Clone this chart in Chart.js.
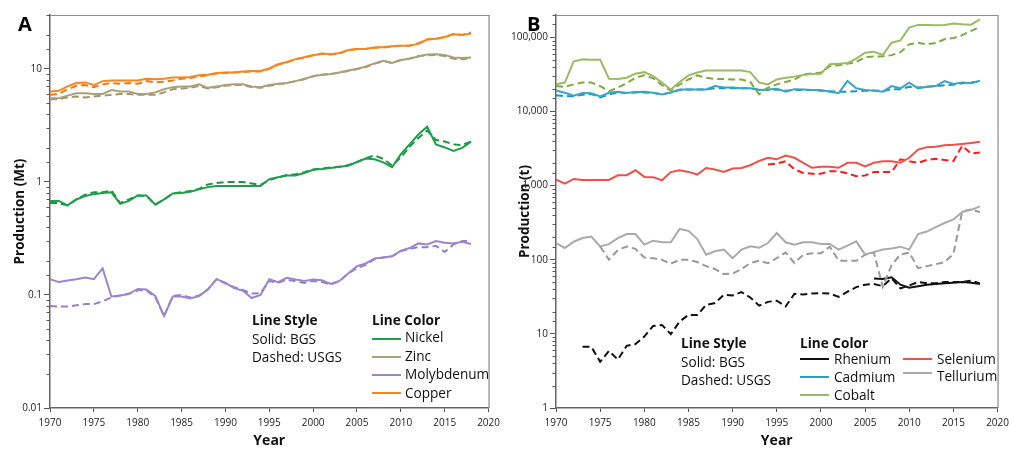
<!DOCTYPE html>
<html><head><meta charset="utf-8">
<script src="https://cdn.jsdelivr.net/npm/chart.js@4"></script>
<style>
body{margin:0;background:#fff;width:1014px;height:450px;overflow:hidden;position:relative;font-family:'Open Sans',sans-serif;}
.cv{position:absolute;top:0;}
.t{position:absolute;font-size:13.6px;line-height:18px;color:#111;white-space:nowrap;}
.b{font-weight:bold;}
.ln{position:absolute;height:0;border-top:2px solid;width:29px;}
.lab{position:absolute;font-weight:bold;font-size:20px;line-height:24px;color:#000;}
</style></head><body>
<canvas id="ca" class="cv" width="505" height="450" style="left:0"></canvas>
<canvas id="cb" class="cv" width="509" height="450" style="left:505px"></canvas>

<div class="lab" style="left:18px;top:12px">A</div>
<div class="lab" style="left:527px;top:12px">B</div>

<div class="t b" style="left:252px;top:311px">Line Style</div>
<div class="t" style="left:252px;top:330px">Solid: BGS</div>
<div class="t" style="left:252px;top:348px">Dashed: USGS</div>
<div class="t b" style="left:372px;top:311px">Line Color</div>
<div class="ln" style="left:372px;top:338px;border-color:#1f9e4b"></div><div class="t" style="left:405px;top:328px">Nickel</div>
<div class="ln" style="left:372px;top:356px;border-color:#aaa07a"></div><div class="t" style="left:405px;top:347px">Zinc</div>
<div class="ln" style="left:372px;top:374px;border-color:#9b86cc"></div><div class="t" style="left:405px;top:365px">Molybdenum</div>
<div class="ln" style="left:372px;top:392px;border-color:#f7861f"></div><div class="t" style="left:405px;top:384px">Copper</div>

<div class="t b" style="left:681px;top:334px">Line Style</div>
<div class="t" style="left:681px;top:353px">Solid: BGS</div>
<div class="t" style="left:681px;top:371px">Dashed: USGS</div>
<div class="t b" style="left:800px;top:334px">Line Color</div>
<div class="ln" style="left:800px;top:358px;border-color:#111"></div><div class="t" style="left:834px;top:350px">Rhenium</div>
<div class="ln" style="left:800px;top:376px;border-color:#2b9fc4"></div><div class="t" style="left:834px;top:368px">Cadmium</div>
<div class="ln" style="left:800px;top:394px;border-color:#9aba63"></div><div class="t" style="left:834px;top:386px">Cobalt</div>
<div class="ln" style="left:903px;top:358px;border-color:#f0504a"></div><div class="t" style="left:937px;top:350px">Selenium</div>
<div class="ln" style="left:903px;top:372px;border-color:#aaa"></div><div class="t" style="left:937px;top:367px">Tellurium</div>

<script>
const years = [1970,1971,1972,1973,1974,1975,1976,1977,1978,1979,1980,1981,1982,1983,1984,1985,1986,1987,1988,1989,1990,1991,1992,1993,1994,1995,1996,1997,1998,1999,2000,2001,2002,2003,2004,2005,2006,2007,2008,2009,2010,2011,2012,2013,2014,2015,2016,2017,2018];

// Panel A (Mt)
const copperBGS = [6.3,6.4,7.0,7.5,7.6,7.2,7.8,7.9,7.9,7.9, 7.9,8.2,8.1,8.2,8.4,8.4,8.5,8.8,8.9,9.2, 9.3,9.3,9.5,9.6,9.6,10.1,11.0,11.5,12.2,12.7, 13.2,13.7,13.5,13.8,14.7,15.0,15.1,15.5,15.6,15.9, 16.0,16.0,16.7,18.2,18.5,19.2,20.3,20.0,20.6];
const copperUSGS = [5.9,6.0,6.6,7.1,7.2,6.9,7.3,7.5,7.4,7.5, 7.4,7.8,7.6,7.7,7.9,8.2,8.3,8.6,8.8,9.1, 9.2,9.3,9.4,9.5,9.5,10.0,10.9,11.4,12.2,12.6, 13.2,13.6,13.4,13.7,14.6,15.0,15.0,15.4,15.5,15.8, 16.0,16.1,16.9,18.3,18.5,19.1,20.4,20.0,21.0];
const zincBGS = [5.5,5.5,5.8,6.1,6.1,6.0,6.0,6.5,6.3,6.3, 6.0,6.0,6.2,6.6,6.9,7.0,7.0,7.3,6.8,7.0, 7.2,7.3,7.3,7.0,6.9,7.2,7.4,7.5,7.8,8.2, 8.6,8.9,9.0,9.3,9.7,10.0,10.5,11.2,11.8,11.3, 12.0,12.3,12.9,13.4,13.5,13.3,12.6,12.5,12.6];
const zincUSGS = [5.4,5.4,5.6,5.7,5.6,5.7,5.8,5.9,6.0,6.0, 5.9,5.9,5.9,6.2,6.6,6.7,6.8,7.1,6.7,6.9, 7.1,7.2,7.2,6.9,6.8,7.1,7.3,7.5,7.8,8.1, 8.6,8.9,9.0,9.3,9.6,10.0,10.4,11.1,11.7,11.3, 12.0,12.4,13.0,13.2,13.3,13.0,12.3,12.2,12.5];
const nickelBGS = [0.68,0.68,0.62,0.70,0.75,0.78,0.80,0.81,0.64,0.68, 0.76,0.76,0.63,0.70,0.79,0.80,0.82,0.86,0.90,0.92, 0.92,0.92,0.92,0.92,0.92,1.06,1.10,1.14,1.14,1.20, 1.28,1.30,1.33,1.36,1.39,1.50,1.61,1.59,1.49,1.35, 1.76,2.15,2.63,3.08,2.15,2.02,1.88,2.00,2.27];
const nickelUSGS = [0.65,0.65,0.62,0.70,0.77,0.81,0.81,0.84,0.65,0.70, 0.76,0.75,0.63,0.70,0.79,0.81,0.83,0.87,0.95,0.98, 1.00,1.00,1.00,0.97,0.94,1.04,1.10,1.15,1.17,1.22, 1.29,1.32,1.34,1.36,1.41,1.50,1.62,1.72,1.60,1.40, 1.65,2.05,2.45,2.85,2.35,2.28,2.15,2.12,2.28];
const molyBGS = [0.138,0.130,0.134,0.138,0.143,0.138,0.172,0.097,0.099,0.102, 0.113,0.112,0.098,0.065,0.097,0.097,0.093,0.098,0.112,0.138, 0.128,0.115,0.109,0.094,0.100,0.138,0.130,0.142,0.137,0.133, 0.137,0.135,0.125,0.133,0.155,0.180,0.190,0.210,0.215,0.220, 0.246,0.260,0.286,0.280,0.300,0.290,0.285,0.295,0.283];
const molyUSGS = [0.080,0.079,0.079,0.081,0.083,0.083,0.088,0.095,0.099,0.103, 0.110,0.110,0.096,0.065,0.098,0.100,0.095,0.099,0.112,0.138, 0.127,0.117,0.111,0.103,0.104,0.133,0.128,0.137,0.132,0.128, 0.133,0.130,0.124,0.133,0.155,0.173,0.185,0.207,0.215,0.220, 0.245,0.255,0.265,0.265,0.272,0.240,0.280,0.300,0.300];

// Panel B (t)
const cobaltBGS = [23200,24500,47000,50400,50000,50000,27700,27500,28500,32300, 33900,30000,24500,19800,25000,30700,33500,35700,35700,35700, 35700,35700,34000,24500,23200,27000,28500,29500,31000,32000, 32300,43200,44000,45000,51500,62100,64000,57700,84700,91000, 135000,147000,147000,145000,147000,153000,150000,148000,175000];
const cobaltUSGS = [22000,21500,23200,24500,24500,22000,18800,21000,24000,28500, 30700,28000,22600,19200,23000,27000,30700,28500,27500,27500, 27000,27000,25000,17000,21000,23200,25000,27000,31600,32500, 33500,40900,42000,44000,46400,54200,55000,55500,57500,63000, 80400,84700,80400,84000,94000,98000,107000,122000,138000];
const cadmiumBGS = [19200,17900,16300,17800,17600,15900,17900,18500,17700,18300, 18500,17900,17000,18000,19800,19800,19800,19800,22000,21000, 21000,20500,20500,19500,19800,20200,18500,20000,19800,19500, 19500,18500,17600,25700,20500,19500,19000,18500,22000,20500, 24400,20500,21500,22000,25700,23500,24500,24000,26000];
const cadmiumUSGS = [16500,16000,16000,16800,17200,15500,17000,18000,17800,18000, 18000,17800,17000,18000,19500,19800,19800,19800,20500,20500, 20500,20500,20500,19500,19500,19800,19000,19500,19500,19500, 19000,18800,18500,18500,18800,19000,19200,18800,20000,20000, 21500,21000,21500,22000,22500,23000,24000,24500,25500];
const seleniumBGS = [1206,1064,1230,1190,1190,1190,1190,1377,1380,1610, 1310,1300,1180,1520,1610,1530,1410,1730,1650,1530, 1700,1730,1880,2150,2370,2260,2540,2370,2030,1740, 1800,1800,1740,2030,2030,1820,2030,2130,2130,2030, 2370,3060,3300,3350,3500,3550,3650,3750,3890];
const seleniumUSGS = [null,null,null,null,null,null,null,null,null,null, null,null,null,null,null,null,null,null,null,null, null,null,null,null,1930,1980,2130,1660,1480,1450, 1450,1560,1560,1460,1340,1370,1520,1520,1520,2260, 2130,2030,2220,2300,2220,2130,3440,2700,2800];
const telluriumBGS = [168,144,175,196,205,151,162,196,222,222, 160,180,172,172,260,245,190,117,130,137, 105,137,152,145,168,229,172,160,172,172, 163,163,137,155,177,117,127,137,142,150, 137,222,240,275,313,350,441,470,525];
const telluriumUSGS = [null,null,null,null,null,151,100,135,151,140, 107,105,100,88,100,100,93,82,75,64, 65,75,90,97,90,105,125,90,117,122, 122,150,97,97,97,117,125,43,85,117, 125,77,82,87,93,120,450,478,436];
const rheniumBGS = [null,null,null,null,null,null,null,null,null,null, null,null,null,null,null,null,null,null,null,null, null,null,null,null,null,null,null,null,null,null, null,null,null,null,null,null,56,55,58,46, 42,44,46,47,48,49,50,49,47];
const rheniumUSGS = [null,null,null,6.7,6.7,4.2,5.9,4.5,6.9,7.3, 9.2,12.8,13.2,9.9,14.7,18,18,24.6,26,33.6, 33,36.5,31,24,27,28,23.4,34.7,34,35, 35.5,35,31.6,37,42.7,46,47,44,56,41, 45,50,48,48,50,50,50,52,48];

const pts = arr => years.map((y,i)=>({x:y, y:arr[i]}));
const ds = (arr, color, dashed) => ({data: pts(arr), borderColor: color, borderWidth: 2, borderDash: dashed ? [7,4] : [], pointRadius: 0, tension: 0, spanGaps: false, fill: false});

const isMajor = v => Math.abs(Math.log10(v) - Math.round(Math.log10(v))) < 1e-6;

const frame = {
  id: 'frame',
  afterDraw(chart) {
    const {ctx, chartArea: a} = chart;
    const ys = chart.scales.y;
    ctx.save();
    ctx.strokeStyle = '#8a8a8a'; ctx.lineWidth = 1.2;
    ctx.beginPath(); ctx.moveTo(a.left, a.top + 0.5); ctx.lineTo(a.right + 0.5, a.top + 0.5); ctx.lineTo(a.right + 0.5, a.bottom); ctx.stroke();
    ctx.strokeStyle = '#555'; ctx.lineWidth = 1;
    ys.ticks.forEach(t => {
      if (!isMajor(t.value)) {
        const p = Math.round(ys.getPixelForValue(t.value)) + 0.5;
        ctx.beginPath(); ctx.moveTo(a.left - 3.5, p); ctx.lineTo(a.left, p); ctx.stroke();
      }
    });
    ctx.restore();
  }
};

function makeChart(id, datasets, yMin, yMax, yTitle, fmt, yWidth, padRight) {
  return new Chart(document.getElementById(id), {
    type: 'line',
    data: {datasets},
    plugins: [frame],
    options: {
      responsive: false, animation: false, devicePixelRatio: 1,
      layout: {padding: {left: 0, top: 15, right: padRight, bottom: 0}},
      plugins: {legend: {display: false}, tooltip: {enabled: false}},
      scales: {
        x: {
          type: 'linear', min: 1970, max: 2020,
          afterFit: s => { s.height = 42; },
          grid: {drawOnChartArea: false, tickLength: 4, tickColor: '#555'},
          border: {color: '#666', width: 1.5},
          ticks: {stepSize: 5, autoSkip: false, maxRotation: 0, padding: 5, color: '#222', font: {family: 'Open Sans', size: 10}, callback: v => String(v)},
          title: {display: true, text: 'Year', color: '#111', font: {family: 'Open Sans', size: 14, weight: 'bold'}, padding: {top: 0, bottom: 1}}
        },
        y: {
          type: 'logarithmic', min: yMin, max: yMax,
          afterFit: s => { s.width = yWidth; },
          grid: {drawOnChartArea: false, tickLength: 6, tickColor: c => isMajor(c.tick.value) ? '#555' : 'rgba(0,0,0,0)'},
          border: {color: '#666', width: 1.5},
          ticks: {autoSkip: false, padding: 2, color: '#222', font: {family: 'Open Sans', size: 10}, callback: v => isMajor(v) ? fmt(v) : ''},
          title: {display: true, text: yTitle, color: '#111', font: {family: 'Open Sans', size: 13.5, weight: 'bold'}, padding: {top: 12, bottom: 0}}
        }
      }
    }
  });
}

makeChart('ca', [
  ds(copperBGS, '#f7861f', false), ds(copperUSGS, '#f07a12', true),
  ds(zincBGS, '#aaa07a', false), ds(zincUSGS, '#a0966c', true),
  ds(nickelBGS, '#1f9e4b', false), ds(nickelUSGS, '#1a9446', true),
  ds(molyBGS, '#9b86cc', false), ds(molyUSGS, '#9580c8', true)
], 0.01, 30, 'Production (Mt)', v => String(v), 50, 7);

makeChart('cb', [
  ds(cobaltBGS, '#9aba63', false), ds(cobaltUSGS, '#84a840', true),
  ds(cadmiumBGS, '#3aa5c6', false), ds(cadmiumUSGS, '#2294ba', true),
  ds(seleniumBGS, '#f0504a', false), ds(seleniumUSGS, '#ff1a1a', true),
  ds(telluriumBGS, '#aaaaaa', false), ds(telluriumUSGS, '#999999', true),
  ds(rheniumBGS, '#111111', false), ds(rheniumUSGS, '#111111', true)
], 1, 200000, 'Production (t)', v => v.toLocaleString('en-US'), 51, 11);
</script>
</body></html>
